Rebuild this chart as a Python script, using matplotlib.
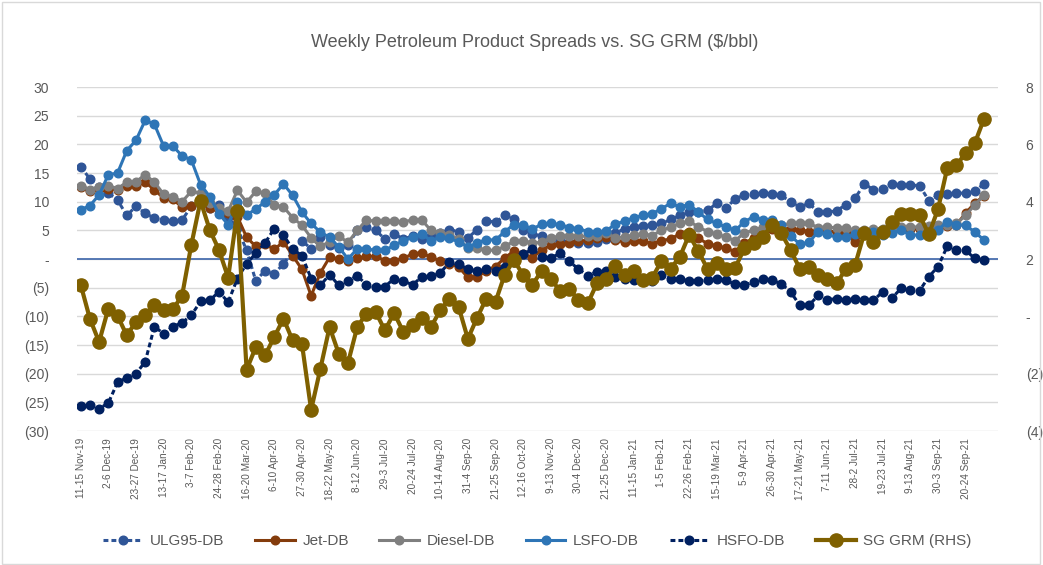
import matplotlib
matplotlib.use("Agg")
import matplotlib.pyplot as plt
from matplotlib.patches import Rectangle
import numpy as np

plt.rcParams['font.family'] = ['Liberation Sans', 'DejaVu Sans']

week_labels = ["11-15 Nov-19", "2-6 Dec-19", "23-27 Dec-19", "13-17 Jan-20", "3-7 Feb-20",
               "24-28 Feb-20", "16-20 Mar-20", "6-10 Apr-20", "27-30 Apr-20", "18-22 May-20",
               "8-12 Jun-20", "29-3 Jul-20", "20-24 Jul-20", "10-14 Aug-20", "31-4 Sep-20",
               "21-25 Sep-20", "12-16 Oct-20", "9-13 Nov-20", "30-4 Dec-20", "21-25 Dec-20",
               "11-15 Jan-21", "1-5 Feb-21", "22-26 Feb-21", "15-19 Mar-21", "5-9 Apr-21",
               "26-30 Apr-21", "17-21 May-21", "7-11 Jun-21", "28-2 Jul-21", "19-23 Jul-21",
               "9-13 Aug-21", "30-3 Sep-21", "20-24 Sep-21"]

ulg95 = [16.1, 14.0, 12.5, 11.5, 10.3, 7.6, 9.2, 8.0, 7.1, 6.8, 6.7, 6.8, 9.2, 9.9, 8.9, 9.4, 7.4, 5.4,
         1.5, -3.8, -2.0, -2.6, -0.8, 1.2, 3.2, 1.8, 3.8, 2.5, 2.0, 2.5, 5.0, 5.6, 5.0, 3.5, 4.4, 3.5,
         4.0, 3.5, 4.0, 4.6, 5.1, 4.8, 3.7, 5.1, 6.7, 6.4, 7.6, 7.0, 5.1, 4.4, 4.0, 3.5, 3.2, 3.0,
         2.8, 2.8, 3.0, 3.5, 4.5, 5.3, 5.6, 5.8, 6.0, 6.2, 6.9, 7.6, 8.2, 8.2, 8.5, 9.7, 8.9, 10.5,
         11.2, 11.3, 11.5, 11.3, 11.1, 10.0, 9.1, 9.7, 8.2, 8.2, 8.4, 9.5, 10.6, 13.1, 12.1, 12.2,
         13.1, 12.9, 12.9, 12.8, 10.2, 11.1, 11.3, 11.5, 11.5, 11.9, 13.1]

jet = [12.5, 11.8, 12.2, 12.2, 12.1, 12.8, 12.8, 13.4, 12.1, 10.6, 10.5, 9.0, 9.3, 9.7, 8.9, 8.5, 8.0,
       7.4, 3.8, 2.2, 2.6, 1.7, 3.0, 0.6, -1.8, -6.4, -2.4, 0.3, 0.0, -0.3, 0.1, 0.5, 0.5, -0.3, -0.3,
       0.1, 0.9, 1.1, 0.3, -0.3, -0.8, -1.4, -3.2, -3.2, -2.0, -1.3, 0.2, 1.4, 0.9, 0.2, 1.6, 2.4, 2.6,
       2.8, 3.1, 3.3, 3.6, 3.9, 3.4, 2.9, 3.2, 3.1, 2.7, 3.2, 3.5, 4.4, 4.8, 3.6, 2.7, 2.3, 1.9, 1.3,
       2.8, 3.6, 4.5, 5.2, 5.3, 5.3, 5.1, 4.8, 5.0, 4.8, 4.8, 4.6, 3.0, 4.5, 4.8, 5.0, 5.2, 5.3, 5.3,
       5.2, 5.0, 5.4, 5.8, 6.0, 8.0, 9.8, 11.0]

diesel = [12.8, 12.1, 12.6, 12.8, 12.3, 13.4, 13.5, 14.7, 13.4, 11.3, 10.9, 10.0, 11.8, 11.5, 9.7, 8.9,
          8.3, 12.0, 9.9, 11.8, 11.5, 9.4, 9.1, 7.2, 5.9, 3.7, 2.2, 3.0, 4.0, 2.9, 5.0, 6.8, 6.6, 6.6,
          6.6, 6.5, 6.8, 6.8, 5.0, 4.6, 4.2, 3.5, 1.9, 1.9, 1.6, 1.5, 2.2, 3.1, 3.2, 2.8, 2.9, 3.7, 4.0,
          4.0, 4.0, 4.0, 4.1, 4.5, 3.7, 3.9, 4.2, 4.4, 4.1, 5.0, 5.6, 6.2, 6.6, 5.6, 4.8, 4.4, 3.8, 3.2,
          4.6, 5.0, 5.6, 6.2, 5.9, 6.2, 6.2, 6.2, 5.5, 5.6, 5.4, 5.4, 5.0, 5.0, 5.2, 5.3, 5.5, 5.6, 5.6,
          5.6, 5.7, 5.9, 6.0, 6.2, 7.6, 9.5, 11.1]

lsfo = [8.6, 9.3, 11.2, 14.7, 15.0, 18.9, 20.7, 24.2, 23.5, 19.7, 19.7, 18.0, 17.3, 13.0, 10.9, 7.9, 6.0,
        10.0, 7.7, 8.7, 10.0, 11.2, 13.1, 11.1, 8.2, 6.2, 4.7, 3.8, 2.1, 0.0, 1.8, 1.8, 1.5, 1.5, 2.4,
        3.2, 3.8, 4.4, 3.2, 3.8, 3.6, 3.0, 2.1, 2.8, 3.4, 3.3, 4.8, 6.0, 6.0, 5.2, 6.1, 6.2, 6.0, 5.5,
        5.3, 4.8, 4.7, 4.9, 6.1, 6.6, 7.2, 7.6, 7.9, 8.8, 9.7, 9.1, 9.5, 8.2, 6.9, 6.2, 5.6, 5.0, 6.5,
        7.4, 6.8, 6.8, 5.9, 4.1, 2.6, 2.9, 4.8, 4.3, 3.8, 3.8, 4.3, 4.8, 4.8, 4.2, 4.5, 5.0, 4.2, 4.2,
        4.6, 5.1, 6.5, 6.0, 5.9, 4.7, 3.3]

hsfo = [-25.7, -25.4, -26.1, -25.1, -21.5, -20.7, -20.0, -17.9, -11.8, -13.0, -11.8, -11.1, -9.8, -7.4,
        -7.2, -5.7, -7.5, -3.4, -0.8, 1.0, 2.8, 5.3, 4.2, 1.7, 0.6, -3.4, -4.6, -2.7, -4.6, -3.8, -2.9,
        -4.5, -4.9, -4.8, -3.4, -3.8, -4.5, -3.1, -3.0, -2.4, -0.6, -0.9, -1.75, -2.1, -1.75, -2.1, -1.3,
        -0.6, 0.8, 1.75, 0.4, 0.2, 1.0, -0.4, -1.75, -2.9, -2.2, -2.1, -3.1, -3.4, -3.6, -3.7, -3.85,
        -2.7, -3.4, -3.5, -3.8, -3.8, -3.7, -3.4, -3.7, -4.4, -4.55, -4.0, -3.5, -3.7, -4.3, -5.7, -8.05,
        -8.05, -6.35, -7.1, -6.9, -7.2, -6.9, -7.2, -7.2, -5.7, -6.8, -5.1, -5.4, -5.5, -3.1, -1.3, 2.2,
        1.6, 1.5, 0.1, -0.2]

sg_grm = [1.11, -0.08, -0.89, 0.27, 0.02, -0.66, -0.19, 0.04, 0.39, 0.24, 0.25, 0.72, 2.49, 4.03, 3.02,
          2.32, 1.35, 3.68, -1.86, -1.07, -1.36, -0.72, -0.08, -0.84, -0.95, -3.26, -1.83, -0.37, -1.30,
          -1.62, -0.37, 0.10, 0.16, -0.49, 0.12, -0.54, -0.29, -0.05, -0.37, 0.21, 0.62, 0.33, -0.78,
          -0.05, 0.62, 0.51, 1.46, 1.96, 1.44, 1.11, 1.58, 1.32, 0.88, 0.97, 0.56, 0.45, 1.15, 1.32,
          1.77, 1.44, 1.58, 1.26, 1.35, 1.93, 1.67, 2.08, 2.84, 2.28, 1.65, 1.87, 1.65, 1.70, 2.37, 2.55,
          2.78, 3.19, 2.90, 2.32, 1.67, 1.73, 1.44, 1.32, 1.15, 1.65, 1.79, 2.90, 2.61, 2.93, 3.28, 3.56,
          3.56, 3.54, 2.86, 3.74, 5.17, 5.27, 5.70, 6.05, 6.90]

left_ticks = list(range(-30, 31, 5))
right_ticks = list(range(-4, 9, 2))

def acc_fmt(v):
    if v == 0:
        return "-"
    if v < 0:
        return "(%d)" % (-v)
    return "%d" % v

x = np.arange(len(sg_grm))

fig = plt.figure(figsize=(10.43, 5.65), dpi=100)
ax = fig.add_axes([0.0738, 0.237, 0.883, 0.609])
ax2 = ax.twinx()

txt = '#595959'
small_series = [
    ("ULG95-DB", ulg95, '#2F5597', True),
    ("Jet-DB", jet, '#843C0C', False),
    ("Diesel-DB", diesel, '#7F7F7F', False),
    ("LSFO-DB", lsfo, '#2E75B6', False),
    ("HSFO-DB", hsfo, '#002060', True),
]
handles = []
for name, vals, col, dashed in small_series:
    kw = dict(color=col, lw=2.2, marker='o', ms=6.2, mfc=col, mec=col, label=name)
    if dashed:
        kw['dashes'] = (1.6, 1.0)
    ln, = ax.plot(x, vals, **kw)
    handles.append(ln)

g, = ax2.plot(x, sg_grm, color='#7F6000', lw=3.0, marker='o', ms=9.5,
              mfc='#7F6000', mec='#7F6000', label='SG GRM (RHS)')
handles.append(g)

ax.set_xlim(-0.4, 99.5)
ax.set_ylim(-30, 30)
ax2.set_ylim(-4, 8)
ax.set_yticks(left_ticks)
ax.set_yticklabels([acc_fmt(v) for v in left_ticks])
ax2.set_yticks(right_ticks)
ax2.set_yticklabels([acc_fmt(v) for v in right_ticks])

ax.set_axisbelow(True)
ax.grid(axis='y', color='#D9D9D9', lw=1.0)
ax.axhline(0, color='#4A6FB0', lw=1.3, zorder=1.5)

ax.set_xticks(np.arange(0, len(sg_grm), 3))
ax.set_xticklabels(week_labels, rotation=90, fontsize=7.2, color=txt)
ax.tick_params(axis='x', length=0, pad=5)
ax.tick_params(axis='y', length=0, pad=20, labelsize=10, labelcolor=txt)
ax2.tick_params(axis='y', length=0, pad=20, labelsize=10, labelcolor=txt)

for a in (ax, ax2):
    for s in a.spines.values():
        s.set_visible(False)

fig.text(0.513, 0.925, "Weekly Petroleum Product Spreads vs. SG GRM ($/bbl)",
         ha='center', va='center', fontsize=13, color=txt)

fig.legend(handles=handles, loc='center', bbox_to_anchor=(0.515, 0.0425), ncol=6,
           frameon=False, fontsize=11, handlelength=2.6, handletextpad=0.5,
           columnspacing=2.0, labelcolor=txt)

fig.patches.append(Rectangle((0.0015, 0.002), 0.996, 0.995, transform=fig.transFigure,
                             fill=False, ec='#D9D9D9', lw=1.0))

fig.savefig("out.png", dpi=100)
